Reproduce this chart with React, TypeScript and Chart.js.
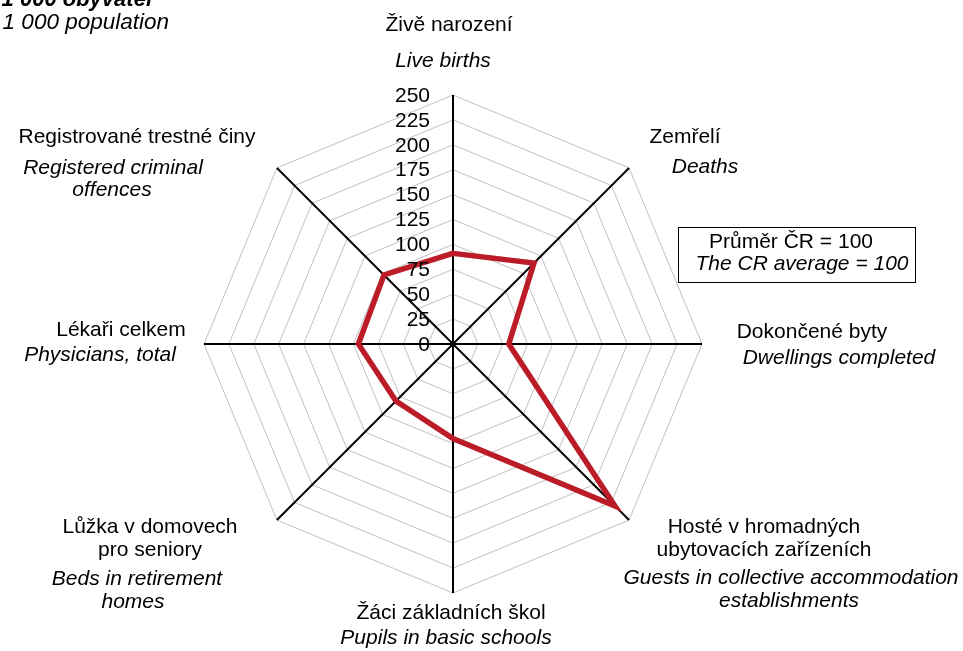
import React, { useEffect, useRef } from "react";
import { Chart, registerables } from "chart.js";

Chart.register(...registerables);

// ---- data ----
const categoriesCz: string[][] = [
  ["Živě narození"],
  ["Zemřelí"],
  ["Dokončené byty"],
  ["Hosté v hromadných", "ubytovacích zařízeních"],
  ["Žáci základních škol"],
  ["Lůžka v domovech", "pro seniory"],
  ["Lékaři celkem"],
  ["Registrované trestné činy"],
];
const categoriesEn: string[][] = [
  ["Live births"],
  ["Deaths"],
  ["Dwellings completed"],
  ["Guests in collective accommodation", "establishments"],
  ["Pupils in basic schools"],
  ["Beds in retirement", "homes"],
  ["Physicians, total"],
  ["Registered criminal", "offences"],
];
const values: number[] = [91, 115, 56, 230, 95, 81, 95, 98];
const scaleMin = 0;
const scaleMax = 250;
const scaleStep = 25;
const titleCz = "Ukazatele na 1 000 obyvatel";
const titleEn = "Indicators per 1 000 population";
const noteCz = "Průměr ČR = 100";
const noteEn = "The CR average = 100";

// ---- layout (label centres, px) ----
const czPos: number[][][] = [
  [[449, 25]],
  [[685, 137]],
  [[812, 332]],
  [[764, 527], [764, 550]],
  [[451, 613]],
  [[150, 527], [150, 550]],
  [[121, 330]],
  [[137, 137]],
];
const enPos: number[][][] = [
  [[443, 61]],
  [[705, 167]],
  [[839, 358]],
  [[791, 578], [789, 601]],
  [[446, 638]],
  [[137, 579], [133, 602]],
  [[100, 355]],
  [[113, 168], [112, 190]],
];

const FONT = "'Liberation Sans', Arial, sans-serif";
const FS = 21;

const labelPlugin = {
  id: "customLabels",
  afterDraw(chart: any) {
    const ctx = chart.ctx as CanvasRenderingContext2D;
    const scale = chart.scales.r;
    ctx.save();
    ctx.fillStyle = "#000";
    // tick labels
    ctx.font = `${FS}px ${FONT}`;
    ctx.textAlign = "right";
    ctx.textBaseline = "middle";
    scale.ticks.forEach((t: any) => {
      const d = scale.getDistanceFromCenterForValue(t.value);
      ctx.fillText(String(t.value), scale.xCenter - 23, scale.yCenter - d + 1);
    });
    // category labels
    ctx.textAlign = "center";
    categoriesCz.forEach((lines, i) => {
      ctx.font = `${FS}px ${FONT}`;
      lines.forEach((l, j) => {
        const p = czPos[i][j];
        ctx.fillText(l, p[0], p[1]);
      });
      ctx.font = `italic ${FS}px ${FONT}`;
      categoriesEn[i].forEach((l, j) => {
        const p = enPos[i][j];
        ctx.fillText(l, p[0], p[1]);
      });
    });
    // title (partly outside the view)
    ctx.textAlign = "right";
    ctx.textBaseline = "alphabetic";
    ctx.font = `italic bold 22px ${FONT}`;
    ctx.fillText(titleCz, 152, 6);
    ctx.font = `italic 22.5px ${FONT}`;
    ctx.fillText(titleEn, 169, 29);
    // note box
    ctx.fillStyle = "#fff";
    ctx.fillRect(678.5, 227.5, 237, 55);
    ctx.strokeStyle = "#000";
    ctx.lineWidth = 1;
    ctx.strokeRect(678.5, 227.5, 237, 55);
    ctx.fillStyle = "#000";
    ctx.textAlign = "center";
    ctx.textBaseline = "middle";
    ctx.font = `${FS}px ${FONT}`;
    ctx.fillText(noteCz, 791, 242);
    ctx.font = `italic ${FS}px ${FONT}`;
    ctx.fillText(noteEn, 802, 264);
    ctx.restore();
  },
};

export default function App() {
  const ref = useRef<HTMLCanvasElement | null>(null);
  useEffect(() => {
    if (!ref.current) return;
    const chart = new Chart(ref.current, {
      type: "radar",
      data: {
        labels: categoriesCz.map((c, i) => [...c, ...categoriesEn[i]]),
        datasets: [
          {
            data: values,
            borderColor: "#BC1C27",
            borderWidth: 5.5,
            borderJoinStyle: "miter",
            pointRadius: 0,
            pointHoverRadius: 0,
            fill: false,
          },
        ],
      },
      options: {
        animation: false,
        responsive: false,
        devicePixelRatio: 1,
        layout: { padding: { left: 204, right: 261, top: 95, bottom: 58 } },
        plugins: { legend: { display: false }, tooltip: { enabled: false } },
        scales: {
          r: {
            min: scaleMin,
            max: scaleMax,
            ticks: { stepSize: scaleStep, display: false },
            grid: { color: "#BFBFBF", lineWidth: 1, circular: false },
            angleLines: { color: "#000", lineWidth: 2 },
            pointLabels: { display: false },
          },
        },
      },
      plugins: [labelPlugin],
    });
    return () => chart.destroy();
  }, []);
  return (
    <div style={{ position: "fixed", left: 0, top: 0, width: 963, height: 651, background: "#fff" }}>
      <canvas ref={ref} width={963} height={651} style={{ width: 963, height: 651, display: "block" }} />
    </div>
  );
}
